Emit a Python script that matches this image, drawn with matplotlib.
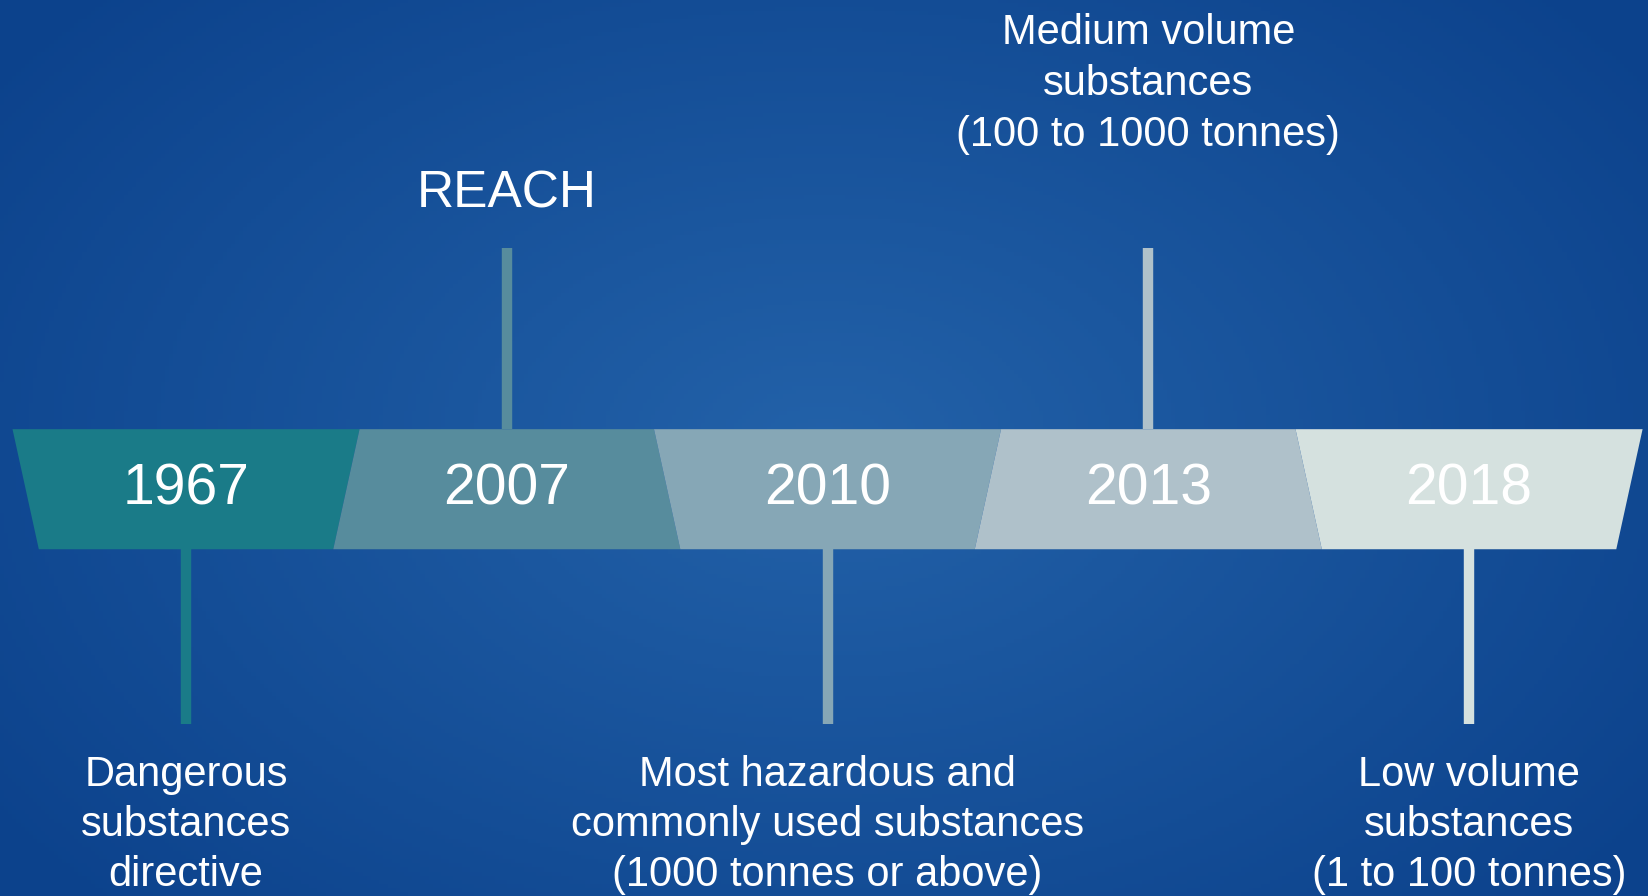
import numpy as np
import matplotlib
matplotlib.use("Agg")
import matplotlib.pyplot as plt
from matplotlib.patches import Polygon

# Timeline data
years = ["1967", "2007", "2010", "2013", "2018"]
colors = ["#1a7b88", "#578c9d", "#86a7b6", "#afc1ca", "#d5e1df"]
stem_up = [False, True, False, True, False]
notes = [
    ["Dangerous", "substances", "directive"],
    ["REACH"],
    ["Most hazardous and", "commonly used substances", "(1000 tonnes or above)"],
    ["Medium volume", "substances", "(100 to 1000 tonnes)"],
    ["Low volume", "substances", "(1 to 100 tonnes)"],
]

plt.rcParams['font.family'] = ['Liberation Sans', 'DejaVu Sans']

W, H = 1649, 896
fig = plt.figure(figsize=(W / 100, H / 100), dpi=100)
ax = fig.add_axes([0, 0, 1, 1])
ax.set_xlim(-0.080, 5.061)
ax.set_ylim(0, 1)
ax.axis('off')

# radial gradient background
gx, gy = np.meshgrid(np.linspace(0, 1, 400), np.linspace(0, 1, 220))
r = np.sqrt(((gx - 0.50) / 0.62) ** 2 + ((gy - 0.50) / 0.75) ** 2)
r = np.clip(r, 0, 1)
c0 = np.array([0x23, 0x62, 0xa9]) / 255
c1 = np.array([0x0c, 0x42, 0x8c]) / 255
img = c0[None, None, :] * (1 - r[..., None]) + c1[None, None, :] * r[..., None]
ax.imshow(img, extent=[-0.080, 5.061, 0, 1], aspect='auto', zorder=0)

band_top, band_bot = 0.521, 0.387
slant = 0.041
n = len(years)

def edge(k):
    sgn = (-1) ** k
    return k - slant * sgn, k + slant * sgn  # top x, bottom x

for i, (yr, col) in enumerate(zip(years, colors)):
    lt, lb = edge(i)
    rt, rb = edge(i + 1)
    poly = Polygon([(lt, band_top), (rt, band_top), (rb, band_bot), (lb, band_bot)],
                   closed=True, facecolor=col, edgecolor='none', zorder=2)
    ax.add_patch(poly)
    cx = i + 0.5
    ax.text(cx, 0.454, yr, color='white', fontsize=41, ha='center', va='center', zorder=3)

    if stem_up[i]:
        ax.vlines(cx, band_top, 0.723, color=col, lw=7.5, zorder=1, capstyle='butt')
    else:
        ax.vlines(cx, 0.1925, band_bot, color=col, lw=7.5, zorder=1, capstyle='butt')

    lines = notes[i]
    if len(lines) == 1:
        ax.text(cx, 0.783, lines[0], color='white', fontsize=37, ha='center', va='center')
    else:
        ys = [0.963, 0.906, 0.849] if stem_up[i] else [0.135, 0.079, 0.023]
        for ln, yy in zip(lines, ys):
            ax.text(cx, yy, ln, color='white', fontsize=30, ha='center', va='center')

fig.savefig("out.png", dpi=100)
